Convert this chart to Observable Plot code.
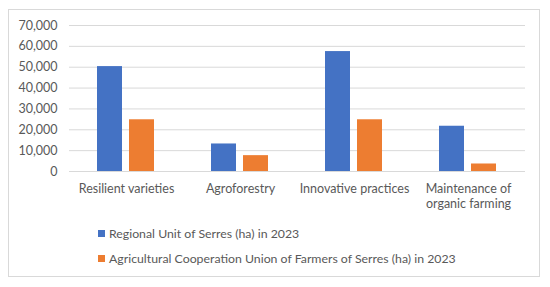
<!DOCTYPE html>
<html>
<head>
<meta charset="utf-8">
<script src="https://cdn.jsdelivr.net/npm/d3@7"></script>
<script src="https://cdn.jsdelivr.net/npm/@observablehq/plot@0.6"></script>
<style>
  html, body { margin: 0; padding: 0; background: #fff; }
  #wrap { position: relative; width: 550px; height: 287px; background: #fff; font-family: Lato, "Open Sans", sans-serif; color: #595959; overflow: hidden; }
  #frame { position: absolute; left: 8px; top: 9px; width: 532px; height: 268px; border: 1px solid #d9d9d9; box-sizing: border-box; }
  #chart { position: absolute; left: 0; top: 0; }
  .leg { position: absolute; left: 98px; font-size: 12.3px; line-height: 14px; white-space: nowrap; }
  .leg span.sw { display: inline-block; width: 7px; height: 7px; margin-right: 4px; vertical-align: 1px; }
</style>
</head>
<body>
<div id="wrap">
  <div id="frame"></div>
  <div id="chart"></div>
  <div class="leg" id="leg1" style="top:227px"></div>
  <div class="leg" id="leg2" style="top:252px"></div>
</div>
<script>
const categories = ["Resilient varieties", "Agroforestry", "Innovative practices", "Maintenance of organic farming"];
const categoryLabels = ["Resilient varieties", "Agroforestry", "Innovative practices", "Maintenance of\norganic farming"];
const seriesNames = ["Regional Unit of Serres (ha) in 2023", "Agricultural Cooperation Union of Farmers of Serres (ha) in 2023"];
const regionalUnit = [50300, 13200, 57500, 21700];
const cooperationUnion = [24800, 7600, 24800, 3600];
const seriesColors = ["#4472C4", "#ED7D31"];
const yTicks = [0, 10000, 20000, 30000, 40000, 50000, 60000, 70000];

const rows = [];
categories.forEach((c, i) => {
  rows.push({category: c, series: seriesNames[0], value: regionalUnit[i]});
  rows.push({category: c, series: seriesNames[1], value: cooperationUnion[i]});
});
const labelRows = categories.map((c, i) => ({category: c, label: categoryLabels[i]}));

const chart = Plot.plot({
  width: 550,
  height: 215,
  marginLeft: 68,
  marginRight: 25,
  marginTop: 25,
  marginBottom: 44,
  style: {fontFamily: "Lato, 'Open Sans', sans-serif", fontSize: "12px", color: "#595959", background: "transparent"},
  fx: {domain: categories, padding: 0, axis: null},
  x: {domain: seriesNames, paddingInner: 0.215, paddingOuter: 0.865, axis: null},
  y: {domain: [0, 70000], axis: null, label: null},
  color: {domain: seriesNames, range: seriesColors},
  marks: [
    Plot.gridY(yTicks, {stroke: "#d9d9d9", strokeOpacity: 1, strokeWidth: 1}),
    Plot.barY(rows, {fx: "category", x: "series", y: "value", fill: "series"}),
    Plot.axisY(yTicks, {tickSize: 0, tickPadding: 12, tickFormat: d3.format(","), fontSize: 12.5, fill: "#595959", label: null}),
    Plot.text(labelRows, {fx: "category", text: "label", frameAnchor: "bottom", lineAnchor: "top", dy: 10, lineHeight: 1.25, fontSize: 12.5, fill: "#595959", textAnchor: "middle"})
  ]
});
document.getElementById("chart").appendChild(chart);

[["leg1", 0], ["leg2", 1]].forEach(([id, i]) => {
  const el = document.getElementById(id);
  const sw = document.createElement("span");
  sw.className = "sw";
  sw.style.background = seriesColors[i];
  el.appendChild(sw);
  el.appendChild(document.createTextNode(seriesNames[i]));
});
</script>
</body>
</html>
